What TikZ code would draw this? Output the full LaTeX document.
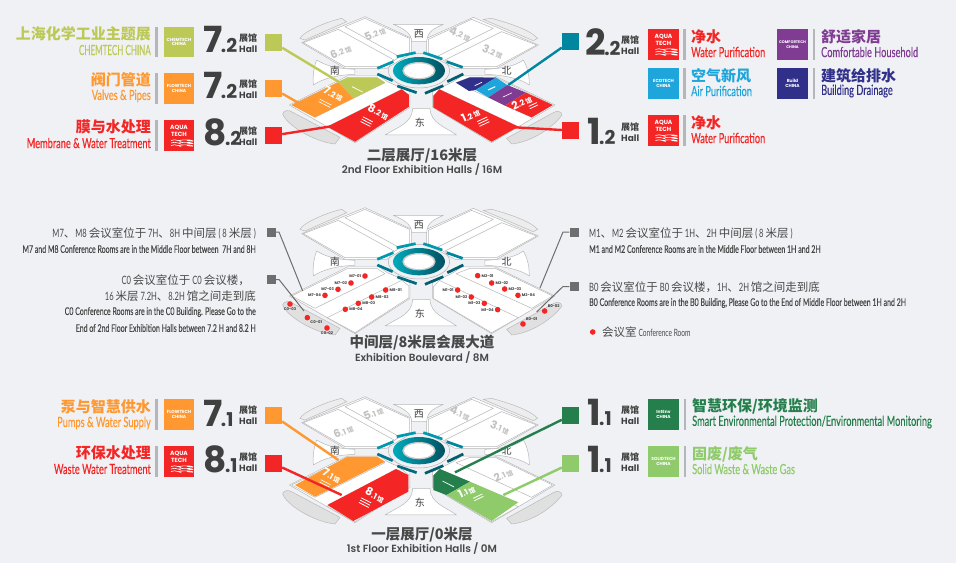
\documentclass[tikz,border=0pt]{standalone}
\usepackage{fontspec}
\setmainfont{Lato}[FakeStretch=0.66]
\newfontfamily\zhfont{Noto Sans CJK SC}
\newfontfamily\numfont{Poppins}
\newfontfamily\titlefont{Poppins}[UprightFont=* SemiBold]
\newcommand{\zh}[1]{{\zhfont #1}}
\newcommand{\hallmark}[2]{\fontsize{11}{11}\selectfont #1\fontsize{8}{8}\selectfont #2\,{\zhfont\bfseries\fontsize{6.5}{6.5}\selectfont 馆}}
\newcommand{\bigmark}[2]{\fontsize{36}{36}\selectfont #1\kern-1.5pt\fontsize{19}{19}\selectfont #2}
\definecolor{pagebg}{HTML}{F0F1F5}
\definecolor{inkgrey}{HTML}{404040}
\definecolor{textgrey}{HTML}{484848}
\definecolor{olivec}{HTML}{BDC957}
\definecolor{orangec}{HTML}{FF9830}
\definecolor{redc}{HTML}{F42525}
\definecolor{tealc}{HTML}{00869F}
\definecolor{bluec}{HTML}{1EA5DC}
\definecolor{purplec}{HTML}{7F3C92}
\definecolor{navyc}{HTML}{30308A}
\definecolor{greenc}{HTML}{257F4C}
\definecolor{limec}{HTML}{8FCB6B}
\definecolor{barc}{HTML}{B5B6BA}
\definecolor{linkgrey}{HTML}{6E6E6E}
\tikzset{
  floorscope/.style={shift={#1},x=0.3333pt,y=-0.3333pt},
  hallshape/.style={draw=black!28,fill=white,line width=0.5pt,line join=round},
  wingshape/.style={draw=black!27,fill=black!12,line width=0.5pt},
  hallmute/.style={font=\numfont\bfseries,inner sep=0pt,text=black!24},
  hallnum/.style={font=\numfont\bfseries,inner sep=0pt,text=white},
  hallbars/.style={inner sep=0pt,align=center,text=white,font=\fontsize{2.6}{2.6}\selectfont},
  compass/.style={font=\zhfont\fontsize{10}{10}\selectfont,text=inkgrey,inner sep=0pt},
  bigno/.style={anchor=base west,inner sep=0pt,text=inkgrey,font=\numfont\bfseries},
  hallzh/.style={anchor=west,inner sep=0pt,text=inkgrey,font=\zhfont\bfseries\fontsize{9}{9}\selectfont},
  hallen/.style={anchor=west,inner sep=0pt,text=inkgrey,font=\numfont\bfseries\fontsize{9}{9}\selectfont},
  hallsq/.style={minimum size=17pt,inner sep=0pt,fill=#1},
  logobox/.style={minimum size=30.5pt,inner sep=0pt,fill=#1,text=white,align=center,font=\numfont\bfseries\fontsize{4.4}{4.8}\selectfont},
  aquabox/.style={logobox=#1,font=\numfont\bfseries\fontsize{6}{6.4}\selectfont,text depth=9pt},
  zhname/.style={inner sep=0pt,text=#1,font=\zhfont\bfseries\fontsize{15}{15}\selectfont},
  enname/.style={inner sep=0pt,text=#1,font=\addfontfeature{FakeBold=0.35}\fontsize{14}{14}\selectfont},
  divbar/.style={draw=barc,line width=2.6pt},
  hlink/.style={draw=#1,line width=2.4pt},
  noteline/.style={draw=linkgrey,line width=1pt},
  notesq/.style={minimum size=9pt,inner sep=0pt,fill=linkgrey},
  notezh/.style={inner sep=0pt,text=textgrey,font=\fontsize{11.5}{11.5}\selectfont},
  noteen/.style={inner sep=0pt,text=textgrey,font=\addfontfeature{FakeBold=0.15}\fontsize{10.6}{10.6}\selectfont},
  titlezh/.style={inner sep=0pt,text=textgrey,font=\zhfont\bfseries\fontsize{14.5}{14.5}\selectfont},
  titleen/.style={inner sep=0pt,text=textgrey,font=\titlefont\fontsize{10.4}{10.4}\selectfont},
  roomdot/.style={circle,fill=redc,minimum size=5.6pt,inner sep=0pt},
  roomtag/.style={inner sep=0.8pt,text=inkgrey,font=\numfont\bfseries\fontsize{3.8}{3.8}\selectfont},
}
% grey plan shared by the three floors
\newcommand{\floorbase}[1]{
  \draw[wingshape,fill=black!7] (90,85) .. controls (100,65) and (170,35) .. (215,25) -- (230,35) -- (105,90) -- cycle;
  \draw[wingshape,fill=black!7] (640,28) -- (665,25) .. controls (720,40) and (780,60) .. (803,85) -- (790,92) -- cycle;
  \draw[wingshape] (38,312) .. controls (42,300) and (55,298) .. (70,308) -- (210,382) -- (195,402) .. controls (130,395) and (50,345) .. cycle;
  \draw[wingshape] (710,385) -- (850,308) .. controls (862,300) and (875,305) .. (876,315) .. controls (850,350) and (790,395) .. (725,402) -- cycle;
  % quadrants
  \draw[hallshape] (95,98) -- (285,20) -- (425,85) -- (425,130) -- (350,175) -- (225,175) -- cycle;
  \draw[hallshape] (470,85) -- (610,22) -- (805,105) -- (680,175) -- (555,175) -- (470,130) -- cycle;
  \draw[hallshape] (58,285) -- (232,198) -- (328,198) -- (352,215) -- (420,245) -- (420,292) -- (255,398) -- cycle;
  \draw[hallshape] (855,285) -- (675,198) -- (575,198) -- (550,215) -- (488,245) -- (488,292) -- (665,398) -- cycle;
  \draw[hallshape] (225,50) -- (285,25) -- (418,85) -- (418,128) -- (392,142) -- cycle;
  \draw[hallshape] (100,98) -- (205,58) -- (372,150) -- (342,170) -- (225,170) -- cycle;
  \draw[hallshape] (475,88) -- (605,28) -- (670,55) -- (500,140) -- (475,128) -- cycle;
  \draw[hallshape] (525,150) -- (695,65) -- (800,105) -- (680,170) -- (565,170) -- cycle;
  \draw[hallshape] (65,285) -- (232,203) -- (322,203) -- (345,218) -- (135,322) -- cycle;
  \draw[hallshape] (172,350) -- (395,238) -- (417,255) -- (417,290) -- (255,395) -- cycle;
  \draw[hallshape] (558,218) -- (600,202) -- (678,203) -- (848,285) -- (785,322) -- cycle;
  \draw[hallshape] (508,238) -- (745,350) -- (665,395) -- (490,292) -- (490,258) -- cycle;
  % plazas
  \draw[hallshape] (370,43) -- (520,43) .. controls (495,55) and (472,62) .. (470,95) -- (425,95) .. controls (425,70) and (400,55) .. cycle;
  \draw[hallshape] (345,375) .. controls (385,350) and (426,340) .. (428,295) -- (480,295) .. controls (482,340) and (525,350) .. (560,375) -- cycle;
  \draw[hallshape] (140,150) .. controls (165,165) and (190,175) .. (255,178) -- (255,193) .. controls (200,195) and (160,205) .. (130,225) .. controls (128,195) and (132,170) .. cycle;
  \draw[hallshape] (760,150) .. controls (740,165) and (710,175) .. (645,178) -- (645,193) .. controls (700,195) and (750,205) .. (778,225) .. controls (778,195) and (772,170) .. cycle;
  \node[compass] (#1west) at (447,72) {西};
  \node[compass] (#1east) at (450,338) {东};
  \node[compass] (#1south) at (195,182) {南};
  \node[compass] (#1north) at (710,182) {北};
  % ring
  \draw[draw=black!30,line width=0.5pt] (447,182) ellipse (92 and 52);
  \foreach \ax/\ay/\bx/\by/\tone in {380/140/437/128/tealc!85!cyan,460/128/517/147/tealc!85!cyan,530/155/578/172/tealc,532/215/580/192/tealc!70!black,465/250/520/227/tealc!70!black,382/228/440/248/tealc!80!black,322/192/368/212/tealc!90!black,322/175/370/155/tealc!85!cyan}
    \draw[line width=2.7pt,draw=\tone] (\ax,\ay) -- (\bx,\by);
  \shade[left color=tealc!70!cyan,right color=tealc!60!black] (447,182) ellipse (78 and 41);
  \fill[black!22] (447,182) ellipse (50 and 26);
  \fill[white] (447,182) ellipse (45 and 22);
}
\newcommand{\aquawaves}[1]{
  \foreach \dy in {5,7.5,10}
    \draw[white,line width=0.6pt] ([shift={(-8,\dy)}]#1.center) .. controls +(4,-2.5) and +(4,2.5) .. +(8,0) .. controls +(12,-2.5) and +(12,2.5) .. +(16,0);
}
\begin{document}
\begin{tikzpicture}[x=1pt,y=-1pt]
\fill[pagebg] (0,0) rectangle (956,563);
\useasboundingbox (0,0) rectangle (956,563);

% 2nd floor
\begin{scope}[floorscope={(270,10)}]
  \floorbase{up}
  \fill[olivec] (205,216) -- (232,203) -- (322,203) -- (345,218) -- (250,265) -- cycle;
  \fill[orangec] (65,285) -- (205,216) -- (250,265) -- (135,322) -- cycle;
  \fill[redc] (172,350) -- (395,238) -- (417,255) -- (417,290) -- (255,395) -- cycle;
  \fill[navyc] (558,218) -- (600,202) -- (678,203) -- (617,240) -- (597,243) -- cycle;
  \fill[bluec] (617,240) -- (678,203) -- (712,225) -- (655,262) -- cycle;
  \fill[purplec] (655,262) -- (712,225) -- (768,248) -- (705,287) -- cycle;
  \fill[redc] (705,287) -- (768,248) -- (848,285) -- (785,322) -- cycle;
  \fill[redc] (508,238) -- (745,350) -- (665,395) -- (490,292) -- (490,258) -- cycle;
  \node[hallmute,rotate=22] (up52) at (315,72) {\hallmark{5}{.2}};
  \node[hallmute,rotate=22] (up62) at (212,125) {\hallmark{6}{.2}};
  \node[hallmute,rotate=-22] (up42) at (570,72) {\hallmark{4}{.2}};
  \node[hallmute,rotate=-22] (up32) at (668,125) {\hallmark{3}{.2}};
  \node[hallnum,rotate=-27] (up72) at (190,252) {\hallmark{7}{.2}};
  \node[hallnum,rotate=-27] (up82) at (325,305) {\hallmark{8}{.2}};
  \node[hallnum,rotate=25] (up12) at (602,317) {\hallmark{1}{.2}};
  \node[hallnum,rotate=25] (up22) at (755,277) {\hallmark{2}{.2}};
  \node[hallbars,rotate=-27] (up72b) at (165,280) {\rule{13pt}{0.6pt}\\\rule{13pt}{0.6pt}};
  \node[hallbars,rotate=-27] (up82b) at (290,335) {\rule{11pt}{0.8pt}\\\rule{11pt}{0.8pt}\\\rule{11pt}{0.8pt}};
  \node[hallbars,rotate=25] (up12b) at (640,335) {\rule{11pt}{0.8pt}\\\rule{11pt}{0.8pt}\\\rule{11pt}{0.8pt}};
  \node[hallbars,rotate=25] (up22b) at (790,287) {\rule{9pt}{0.8pt}\\\rule{9pt}{0.8pt}};
  \node[hallbars,rotate=-27] (upolive) at (262,238) {\rule{12pt}{0.7pt}};
  \node[hallbars,rotate=25] (upnavy) at (625,222) {\rule{8pt}{0.7pt}};
  \node[hallbars,rotate=25] (upblue) at (665,235) {\rule{8pt}{1pt}};
  \node[hallbars,rotate=25] (uppurple) at (712,255) {\rule{10pt}{0.6pt}};
  \coordinate (up72target) at (255,245);
  \coordinate (up72btarget) at (105,290);
  \coordinate (up82target) at (190,348);
  \coordinate (up22target) at (715,225);
  \coordinate (up12target) at (735,352);
\end{scope}

% middle floor
\begin{scope}[floorscope={(270,201)}]
  \floorbase{mid}
  \foreach \room/\px/\py/\side in {M7-01/285/225/left,M7-02/243/246/left,M7-03/204/265/left,M7-04/165/283/left,M8-01/347/267/right,M8-02/305/288/right,M8-03/265/307/right,M8-04/226/325/right,M1-01/563/267/left,M1-02/604/288/left,M1-03/643/307/left,M1-04/683/326/left,M2-01/623/224/right,M2-02/665/246/right,M2-03/704/264/right,M2-04/744/283/right,C0-03/60/309/below,C0-01/112/350/below right,C0-02/171/381/below,B0-01/759/369/above right,B0-02/824/330/above right}
    \node[roomdot,label={[roomtag]\side:\room}] (\room) at (\px,\py) {};
  \coordinate (midleftA) at (98,270);
  \coordinate (midleftB) at (102,330);
  \coordinate (midrightA) at (810,261);
  \coordinate (midrightB) at (800,333);
\end{scope}

% 1st floor
\begin{scope}[floorscope={(270,390)}]
  \floorbase{low}
  \fill[orangec] (75,285) -- (232,200) -- (322,200) -- (345,215) -- (135,320) -- cycle;
  \fill[redc] (172,345) -- (378,237) -- (415,255) -- (415,305) -- (250,393) -- cycle;
  \fill[greenc] (510,237) -- (600,275) -- (530,315) -- (490,300) -- (490,257) -- cycle;
  \fill[limec] (530,315) -- (600,275) -- (745,337) -- (665,393) -- cycle;
  \node[hallmute,rotate=22] (low51) at (310,70) {\hallmark{5}{.1}};
  \node[hallmute,rotate=22] (low61) at (220,125) {\hallmark{6}{.1}};
  \node[hallmute,rotate=-22] (low41) at (570,70) {\hallmark{4}{.1}};
  \node[hallmute,rotate=-22] (low31) at (690,112) {\hallmark{3}{.1}};
  \node[hallmute,rotate=25] (low21) at (700,255) {\hallmark{2}{.1}};
  \node[hallnum,rotate=-27] (low71) at (185,258) {\hallmark{7}{.1}};
  \node[hallnum,rotate=-27] (low81) at (315,315) {\hallmark{8}{.1}};
  \node[hallnum,rotate=25] (low11) at (590,305) {\hallmark{1}{.1}};
  \node[hallbars,rotate=-27] (low71b) at (165,280) {\rule{11pt}{0.6pt}\\\rule{11pt}{0.6pt}};
  \node[hallbars,rotate=-27] (low81b) at (285,338) {\rule{11pt}{0.8pt}\\\rule{11pt}{0.8pt}\\\rule{11pt}{0.8pt}};
  \node[hallbars,rotate=25] (low11b) at (625,322) {\rule{10pt}{0.8pt}\\\rule{10pt}{0.8pt}};
  \node[hallbars,rotate=-27] (lowgreen) at (535,282) {\rule{13pt}{0.7pt}};
  \coordinate (low71target) at (205,210);
  \coordinate (low81target) at (215,315);
  \coordinate (low11target) at (555,247);
  \coordinate (low11btarget) at (700,315);
\end{scope}

% titles
\node[titlezh] (uptitle) at (422,155.5) {二层展厅/16米层};
\node[titleen] (upsub) at (422,169.5) {2nd Floor Exhibition Halls / 16M};
\node[titlezh] (midtitle) at (422,343) {中间层/8米层会展大道};
\node[titleen] (midsub) at (422,358) {Exhibition Boulevard / 8M};
\node[titlezh] (lowtitle) at (422,535) {一层展厅/0米层};
\node[titleen] (lowsub) at (422,548.5) {1st Floor Exhibition Halls / 0M};

% 2nd floor, left
\node[zhname=olivec,anchor=east] (chemzh) at (151,34) {上海化学工业主题展};
\node[enname=olivec,anchor=east] (chemen) at (151,50) {\scalebox{.87}[1]{CHEMTECH CHINA}};
\draw[divbar] (156.5,27) -- (156.5,57);
\node[logobox=olivec] (chemlogo) at (179,42) {CHEMTECH\\CHINA};
\node[bigno] (chemno) at (203,52) {\bigmark{7}{.2}};
\node[hallzh] (chemhz) at (239,38) {展馆};
\node[hallen] (chemhe) at (239,49) {Hall};
\node[hallsq=olivec] (chemsq) at (273.5,42.5) {};
\draw[hlink=olivec] (chemsq) -- (up72target);

\node[zhname=orangec,anchor=east] (flowzh) at (151,80) {阀门管道};
\node[enname=orangec,anchor=east] (flowen) at (151,96) {Valves \& Pipes};
\draw[divbar] (156.5,73) -- (156.5,104);
\node[logobox=orangec] (flowlogo) at (179,88.5) {FLOWTECH\\CHINA};
\node[bigno] (flowno) at (203,98) {\bigmark{7}{.2}};
\node[hallzh] (flowhz) at (239,84) {展馆};
\node[hallen] (flowhe) at (239,95) {Hall};
\node[hallsq=orangec] (flowsq) at (273.5,88.5) {};
\draw[hlink=orangec] (flowsq) -- (up72btarget);

\node[zhname=redc,anchor=east] (membzh) at (151,127) {膜与水处理};
\node[enname=redc,anchor=east] (memben) at (151,143) {Membrane \& Water Treatment};
\draw[divbar] (156.5,120) -- (156.5,151);
\node[aquabox=redc] (memblogo) at (179,135.5) {AQUA\\TECH};
\aquawaves{memblogo}
\node[bigno] (membno) at (203,145) {\bigmark{8}{.2}};
\node[hallzh] (membhz) at (239,131) {展馆};
\node[hallen] (membhe) at (239,142) {Hall};
\node[hallsq=redc] (membsq) at (273.5,135.5) {};
\draw[hlink=redc] (membsq) -- (up82target);

% 2nd floor, right
\node[hallsq=tealc] (puresq) at (570.5,41.5) {};
\draw[hlink=tealc] (puresq) -- (up22target);
\node[bigno] (pureno) at (585,55) {\bigmark{2}{.2}};
\node[hallzh] (purehz) at (621,40) {展馆};
\node[hallen] (purehe) at (621,51) {Hall};
\node[aquabox=redc] (purelogo) at (663.5,44.5) {AQUA\\TECH};
\aquawaves{purelogo}
\draw[divbar] (684.5,29) -- (684.5,60);
\node[zhname=redc,anchor=west] (purezh) at (691,37) {净水};
\node[enname=redc,anchor=west] (pureen) at (691,52) {Water Purification};
\node[logobox=purplec,font=\numfont\bfseries\fontsize{3.8}{4.6}\selectfont] (comflogo) at (792.5,44.5) {COMFORTECH\\CHINA};
\draw[divbar] (814,29) -- (814,60);
\node[zhname=purplec,anchor=west] (comfzh) at (821,37) {舒适家居};
\node[enname=purplec,anchor=west] (comfen) at (821,52) {Comfortable Household};
\node[logobox=bluec] (airlogo) at (663.5,83.5) {ECOTECH\\CHINA};
\draw[divbar] (684.5,68) -- (684.5,99);
\node[zhname=bluec,anchor=west] (airzh) at (691,76) {空气新风};
\node[enname=bluec,anchor=west] (airen) at (691,91) {Air Purification};
\node[logobox=navyc] (buildlogo) at (792.5,83.5) {Build\\CHINA};
\draw[divbar] (814,68) -- (814,99);
\node[zhname=navyc,anchor=west] (buildzh) at (821,76) {建筑给排水};
\node[enname=navyc,anchor=west] (builden) at (821,91) {Building Drainage};

\node[hallsq=redc] (watersq) at (570.5,130.5) {};
\draw[hlink=redc] (watersq) -- (up12target);
\node[bigno] (waterno) at (587,144) {\bigmark{1}{.2}};
\node[hallzh] (waterhz) at (621,127) {展馆};
\node[hallen] (waterhe) at (621,138) {Hall};
\node[aquabox=redc] (waterlogo) at (663.5,130.5) {AQUA\\TECH};
\aquawaves{waterlogo}
\draw[divbar] (684.5,115) -- (684.5,146);
\node[zhname=redc,anchor=west] (waterzh) at (691,123) {净水};
\node[enname=redc,anchor=west] (wateren) at (691,138) {Water Purification};

% middle notes
\node[notesq] (sqmsouth) at (271,232) {};
\coordinate (kneemsouth) at (279,232);
\draw[noteline] (sqmsouth) -- (kneemsouth) -- (midleftA);
\node[notesq] (sqcsouth) at (271,279.5) {};
\coordinate (kneecsouth) at (279,279.5);
\draw[noteline] (sqcsouth) -- (kneecsouth) -- (midleftB);
\node[notesq] (sqmnorth) at (574,232) {};
\coordinate (kneemnorth) at (563,232);
\draw[noteline] (sqmnorth) -- (kneemnorth) -- (midrightA);
\node[notesq] (sqbnorth) at (574,286.5) {};
\coordinate (kneebnorth) at (563,286.5);
\draw[noteline] (sqbnorth) -- (kneebnorth) -- (midrightB);

\node[notezh,anchor=east] (noteA) at (256,233) {M7\zh{、}M8 \zh{会议室位于} 7H\zh{、}8H \zh{中间层} ( 8 \zh{米层} )};
\node[noteen,anchor=east] (noteAen) at (256,249) {M7 and M8 Conference Rooms are in the Middle Floor between \ 7H and 8H};
\node[notezh,anchor=east] (noteB) at (250,280) {C0 \zh{会议室位于} C0 \zh{会议楼，}};
\node[notezh,anchor=east] (noteC) at (256,296) {16 \zh{米层} 7.2H\zh{、}8.2H \zh{馆之间走到底}};
\node[noteen,anchor=east] (noteD) at (256,312) {C0 Conference Rooms are in the C0 Building. Please Go to the};
\node[noteen,anchor=east] (noteE) at (256,328) {End of 2nd Floor Exhibition Halls between 7.2 H and 8.2 H};
\node[notezh,anchor=west] (noteF) at (589,233) {M1\zh{、}M2 \zh{会议室位于} 1H\zh{、}2H \zh{中间层} ( 8 \zh{米层} )};
\node[noteen,anchor=west] (noteFen) at (589,249) {M1 and M2 Conference Rooms are in the Middle Floor between 1H and 2H};
\node[notezh,anchor=west] (noteG) at (589,287) {B0 \zh{会议室位于} B0 \zh{会议楼，}1H\zh{、}2H \zh{馆之间走到底}};
\node[noteen,anchor=west] (noteGen) at (589,303) {B0 Conference Rooms are in the B0 Building, Please Go to the End of Middle Floor between 1H and 2H};
\node[roomdot] (keydot) at (592.7,332) {};
\node[notezh,anchor=west] (keyzh) at (602,332) {\zh{会议室} \fontsize{10}{10}\selectfont Conference Room};

% 1st floor, left
\node[zhname=orangec,anchor=east] (pumpzh) at (151,407) {泵与智慧供水};
\node[enname=orangec,anchor=east] (pumpen) at (151,423) {Pumps \& Water Supply};
\draw[divbar] (156.5,399) -- (156.5,430);
\node[logobox=orangec] (pumplogo) at (179,414.5) {FLOWTECH\\CHINA};
\node[bigno] (pumpno) at (203,426) {\bigmark{7}{.1}};
\node[hallzh] (pumphz) at (239,410) {展馆};
\node[hallen] (pumphe) at (239,421) {Hall};
\node[hallsq=orangec] (pumpsq) at (273.5,415.5) {};
\draw[hlink=orangec] (pumpsq) -- (low71target);

\node[zhname=redc,anchor=east] (wastezh) at (151,453) {环保水处理};
\node[enname=redc,anchor=east] (wasteen) at (151,469) {Waste Water Treatment};
\draw[divbar] (156.5,446) -- (156.5,477);
\node[aquabox=redc] (wastelogo) at (179,461.5) {AQUA\\TECH};
\aquawaves{wastelogo}
\node[bigno] (wasteno) at (203,472) {\bigmark{8}{.1}};
\node[hallzh] (wastehz) at (239,457) {展馆};
\node[hallen] (wastehe) at (239,468) {Hall};
\node[hallsq=redc] (wastesq) at (273.5,463.5) {};
\draw[hlink=redc] (wastesq) -- (low81target);

% 1st floor, right
\node[hallsq=greenc] (envsq) at (570.5,415.5) {};
\draw[hlink=greenc] (envsq) -- (low11target);
\node[bigno] (envno) at (587,425) {\bigmark{1}{.1}};
\node[hallzh] (envhz) at (621,410) {展馆};
\node[hallen] (envhe) at (621,421) {Hall};
\node[logobox=greenc] (envlogo) at (663.5,414.5) {IntEnv\\CHINA};
\draw[divbar] (685,399) -- (685,430);
\node[zhname=greenc,anchor=west] (envzh) at (692,406) {智慧环保/环境监测};
\node[enname=greenc,anchor=west] (enven) at (692,422) {Smart Environmental Protection/Environmental Monitoring};

\node[hallsq=limec] (solidsq) at (570.5,463.5) {};
\draw[hlink=limec] (solidsq) -- (low11btarget);
\node[bigno] (solidno) at (587,472) {\bigmark{1}{.1}};
\node[hallzh] (solidhz) at (621,457) {展馆};
\node[hallen] (solidhe) at (621,468) {Hall};
\node[logobox=limec] (solidlogo) at (663.5,461.5) {SOLIDTECH\\CHINA};
\draw[divbar] (685,446) -- (685,477);
\node[zhname=limec,anchor=west] (solidzh) at (692,454) {固废/废气};
\node[enname=limec,anchor=west] (soliden) at (692,469) {Solid Waste \& Waste Gas};
\end{tikzpicture}
\end{document}
